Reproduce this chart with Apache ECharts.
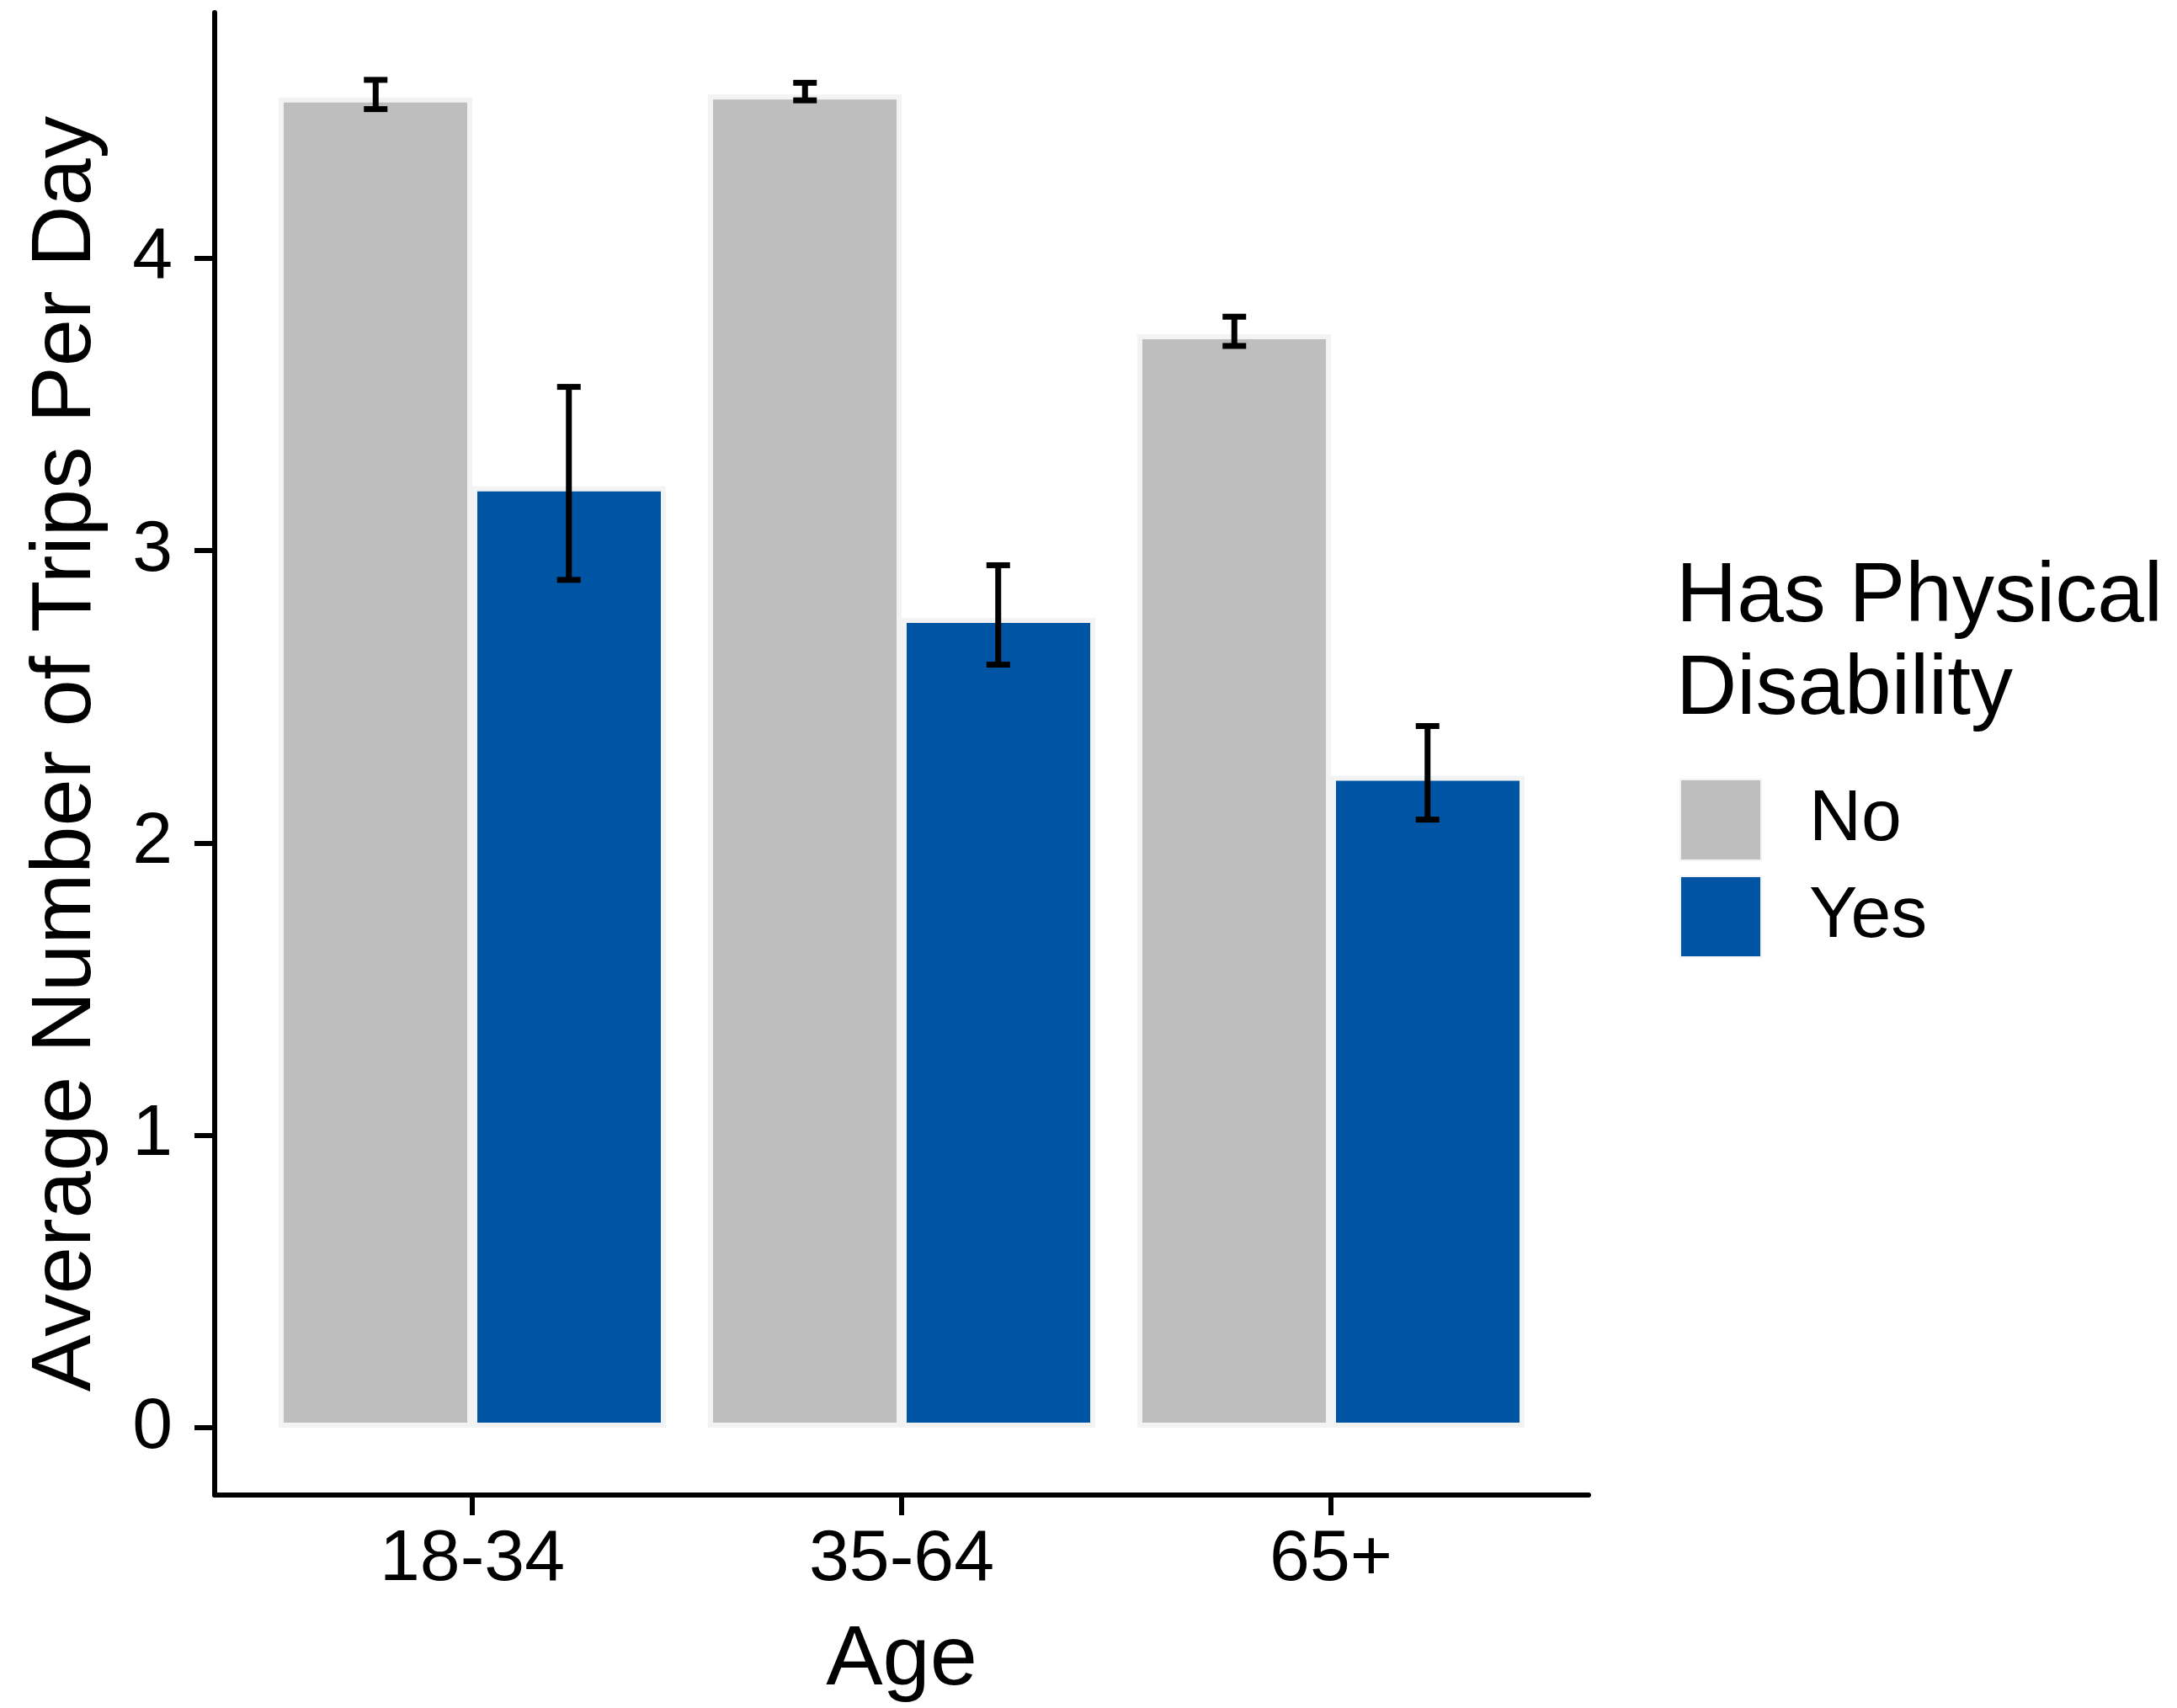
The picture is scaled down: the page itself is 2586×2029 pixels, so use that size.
<!DOCTYPE html>
<html lang="en">
<head>
    <meta charset="UTF-8">
    <script src="https://cdn.jsdelivr.net/npm/echarts@6/dist/echarts.min.js"></script>
</head>
<body style="margin:0;background:#fff;">

<div id="main" style="width: 2586px;height:2029px;"></div>

<script type="text/javascript">
    // data
    var ageGroups = ['18-34', '35-64', '65+'];
    var groupNames = ['No', 'Yes'];
    var meanNo = [4.55, 4.56, 3.74];
    var meanYes = [3.22, 2.77, 2.23];
    var lowNo = [4.51, 4.54, 3.70];
    var highNo = [4.61, 4.60, 3.80];
    var lowYes = [2.90, 2.61, 2.08];
    var highYes = [3.56, 2.95, 2.40];
    var yTicks = [0, 1, 2, 3, 4];

    var font = 'Liberation Sans, Arial, sans-serif';
    var dodge = 0.225;

    function barData(vals) {
        return vals.map(function (v, i) { return [i, v]; });
    }
    function errData(lo, hi, off) {
        return lo.map(function (v, i) { return [i + off, v, hi[i]]; });
    }

    function renderErr(params, api) {
        var x = api.value(0);
        var lo = api.coord([x, api.value(1)]);
        var hi = api.coord([x, api.value(2)]);
        var cap = 14;
        var st = {stroke: '#000', lineWidth: 7};
        return {
            type: 'group',
            children: [
                {type: 'line', shape: {x1: lo[0], y1: lo[1], x2: hi[0], y2: hi[1]}, style: st},
                {type: 'line', shape: {x1: lo[0] - cap, y1: lo[1], x2: lo[0] + cap, y2: lo[1]}, style: st},
                {type: 'line', shape: {x1: hi[0] - cap, y1: hi[1], x2: hi[0] + cap, y2: hi[1]}, style: st}
            ]
        };
    }

    var myChart = echarts.init(document.getElementById('main'));

    var option = {
        backgroundColor: '#fff',
        animation: false,
        textStyle: {fontFamily: font, color: '#000'},
        title: {
            text: 'Has Physical\nDisability',
            left: 1991,
            top: 655,
            padding: 0,
            textStyle: {fontFamily: font, fontSize: 100, fontWeight: 'normal', lineHeight: 110, color: '#000'}
        },
        legend: {
            data: groupNames,
            orient: 'vertical',
            left: 1995,
            top: 925,
            padding: 0,
            icon: 'rect',
            itemWidth: 96,
            itemHeight: 96,
            itemGap: 17,
            textStyle: {fontFamily: font, fontSize: 86, color: '#000', padding: [0, 0, 0, 52]}
        },
        grid: {left: 255, right: 699, top: 15, bottom: 251},
        xAxis: {
            type: 'value',
            min: -0.6,
            max: 2.6,
            name: 'Age',
            nameLocation: 'middle',
            nameGap: 147,
            nameTextStyle: {fontFamily: font, fontSize: 101, color: '#000'},
            axisLine: {show: true, onZero: false, lineStyle: {color: '#000', width: 6}},
            axisTick: {show: true, length: 24, lineStyle: {color: '#000', width: 6}, customValues: [0, 1, 2]},
            axisLabel: {
                fontFamily: font, fontSize: 86, color: '#000', margin: 34,
                customValues: [0, 1, 2],
                formatter: function (v) { return ageGroups[Math.round(v)]; }
            },
            splitLine: {show: false}
        },
        yAxis: {
            type: 'value',
            min: -0.23,
            max: 4.84,
            name: 'Average Number of Trips Per Day',
            nameLocation: 'middle',
            nameGap: 125,
            nameTextStyle: {fontFamily: font, fontSize: 101, color: '#000'},
            axisLine: {show: true, onZero: false, lineStyle: {color: '#000', width: 6}},
            axisTick: {show: true, length: 24, lineStyle: {color: '#000', width: 6}, customValues: yTicks},
            axisLabel: {fontFamily: font, fontSize: 86, color: '#000', margin: 50, customValues: yTicks},
            splitLine: {show: false}
        },
        series: [
            {
                name: 'No',
                type: 'bar',
                data: barData(meanNo),
                barWidth: 230,
                barGap: '0%',
                itemStyle: {color: '#BEBEBE', borderColor: '#f3f3f3', borderWidth: 6}
            },
            {
                name: 'Yes',
                type: 'bar',
                data: barData(meanYes),
                barWidth: 230,
                barGap: '0%',
                itemStyle: {color: '#0054A4', borderColor: '#f3f3f3', borderWidth: 6}
            },
            {
                type: 'custom',
                renderItem: renderErr,
                data: errData(lowNo, highNo, -dodge),
                encode: {x: 0, y: [1, 2]},
                z: 10
            },
            {
                type: 'custom',
                renderItem: renderErr,
                data: errData(lowYes, highYes, dodge),
                encode: {x: 0, y: [1, 2]},
                z: 10
            }
        ]
    };

    myChart.setOption(option);
</script>
</body>
</html>
